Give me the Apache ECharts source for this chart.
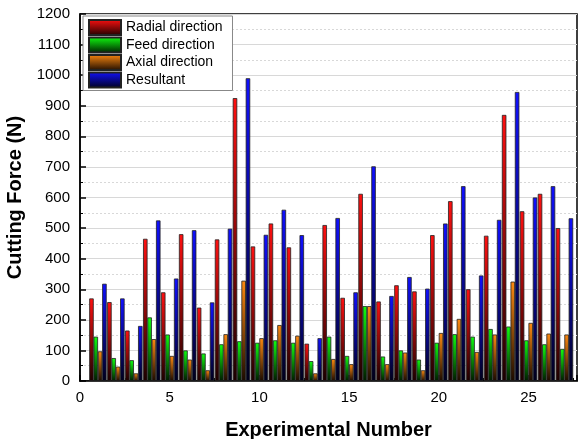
<!DOCTYPE html>
<html>
<head>
<meta charset="utf-8">
<script src="https://cdn.jsdelivr.net/npm/echarts@6/dist/echarts.min.js"></script>
<style>html,body{margin:0;padding:0;background:#fff}#c{width:579px;height:439px}</style>
</head>
<body>
<div id="c"></div>
<script>
const experiments = [1,2,3,4,5,6,7,8,9,10,11,12,13,14,15,16,17,18,19,20,21,22,23,24,25,26,27];
const radial    = [270,258,165,465,290,480,240,463,925,440,515,437,122,510,272,612,260,313,293,477,588,300,475,870,555,612,500];
const feed      = [145,75,68,208,152,100,90,120,130,125,133,125,65,145,82,245,80,100,70,125,153,145,170,178,133,120,105];
const axial     = [97,47,25,137,82,70,35,153,328,140,183,148,25,72,55,245,55,93,35,157,203,95,152,325,190,155,152];
const resultant = [318,270,180,525,335,493,257,498,990,478,560,477,140,533,290,702,278,340,302,515,637,345,527,945,600,637,532];
const seriesNames = ['Radial direction','Feed direction','Axial direction','Resultant'];
const yTicks = [0,100,200,300,400,500,600,700,800,900,1000,1100,1200];

function grad(top, bottom){
  return new echarts.graphic.LinearGradient(0,0,0,1,[{offset:0,color:top},{offset:1,color:bottom}]);
}
const colors = [
  grad('#ff1010','#1a0000'),
  grad('#10ff10','#001a00'),
  grad('#ff8a10','#1a0a00'),
  grad('#1010ff','#00001a')
];
const allData = [radial, feed, axial, resultant];

const chart = echarts.init(document.getElementById('c'), null, {renderer:'canvas'});
const font = 'Arial, "Liberation Sans", sans-serif';
chart.setOption({
  animation:false,
  grid:{left:80,right:2,top:14,bottom:58,containLabel:false,outerBoundsMode:'none',show:true,borderColor:'#000',borderWidth:1.5},
  legend:{
    orient:'vertical',left:83,top:16,
    icon:'rect',
    itemWidth:32,itemHeight:15,itemGap:0.5,
    padding:[3,10,2,5],
    backgroundColor:'#fff',borderColor:'#888',borderWidth:1,
    textStyle:{fontFamily:font,fontSize:14,color:'#000'},
    data:seriesNames
  },
  xAxis:{
    type:'value',min:0,max:27.7,interval:5,
    name:'Experimental Number',nameLocation:'middle',nameGap:39,
    nameTextStyle:{fontFamily:font,fontSize:20,fontWeight:'bold',color:'#000'},
    axisLine:{lineStyle:{color:'#000',width:1.5}},
    axisTick:{inside:true,length:6,lineStyle:{color:'#000',width:1.5}},
    minorTick:{show:true,splitNumber:2,length:3,lineStyle:{color:'#000',width:1}},
    axisLabel:{fontFamily:font,fontSize:15,color:'#000',margin:9,showMaxLabel:false},
    splitLine:{show:false}
  },
  yAxis:{
    type:'value',min:0,max:1200,interval:100,
    name:'Cutting Force (N)',nameLocation:'middle',nameGap:54,
    nameTextStyle:{fontFamily:font,fontSize:20,fontWeight:'bold',color:'#000'},
    axisLine:{lineStyle:{color:'#000',width:1.5}},
    axisTick:{inside:true,length:6,lineStyle:{color:'#000',width:1.5}},
    minorTick:{show:true,splitNumber:2,length:3,lineStyle:{color:'#000',width:1}},
    axisLabel:{fontFamily:font,fontSize:15,color:'#000',margin:10,
      formatter:function(v){return yTicks.indexOf(v)>=0?String(v):'';}},
    splitLine:{show:true,lineStyle:{color:'#d8d8d8',width:1}},
    minorSplitLine:{show:true,lineStyle:{color:'#d8d8d8',width:1,type:[2,2]}}
  },
  series: seriesNames.map(function(name,k){
    return {
      name:name,type:'bar',
      barWidth:4.5,barGap:'-4%',
      itemStyle:{color:colors[k],borderColor:'#222',borderWidth:0.8},
      data: experiments.map(function(x,i){return [x, allData[k][i]];})
    };
  })
});
</script>
</body>
</html>
